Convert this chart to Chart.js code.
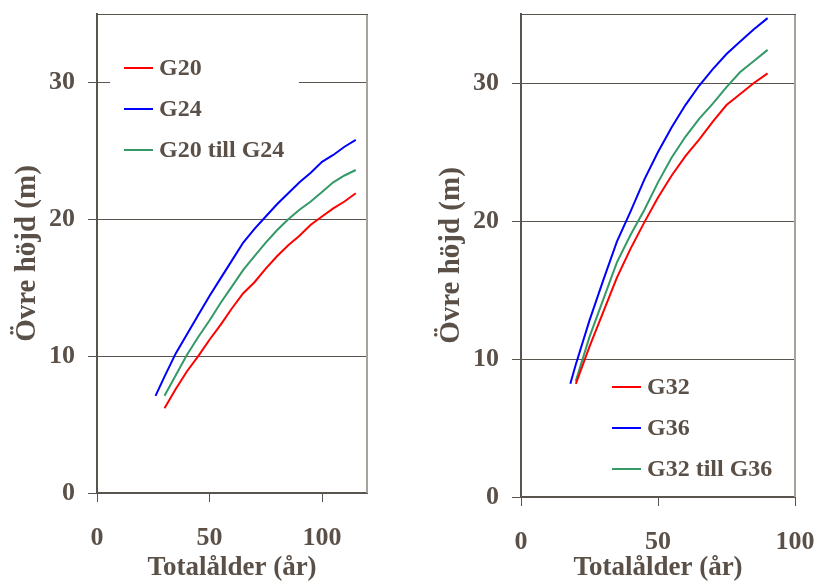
<!DOCTYPE html>
<html>
<head>
<meta charset="utf-8">
<script src="https://cdn.jsdelivr.net/npm/chart.js@4/dist/chart.umd.min.js"></script>
<style>
  html, body { margin: 0; padding: 0; background: #fff; }
  #wrap { display: flex; width: 816px; height: 581px; }
  .panel { width: 408px; height: 581px; position: relative; }
</style>
</head>
<body>
<div id="wrap">
  <div class="panel"><canvas id="left" width="408" height="581"></canvas></div>
  <div class="panel"><canvas id="right" width="408" height="581"></canvas></div>
</div>
<script>
// Övre höjd (m) mot totalålder (år), ståndortsindex G20–G24 och G32–G36

// G20 / G24 / G20 till G24
const ageG20 = [30, 35, 40, 45, 50, 55, 60, 65, 70, 75, 80, 85, 90, 95, 100, 105, 110, 115];
const hG20   = [6.2, 7.6, 8.9, 10.0, 11.2, 12.3, 13.5, 14.6, 15.4, 16.4, 17.3, 18.1, 18.8, 19.6, 20.2, 20.8, 21.3, 21.9];
const ageG24 = [26, 30, 35, 40, 45, 50, 55, 60, 65, 70, 75, 80, 85, 90, 95, 100, 105, 110, 115];
const hG24   = [7.1, 8.5, 10.2, 11.6, 13.0, 14.4, 15.7, 17.0, 18.3, 19.3, 20.2, 21.1, 21.9, 22.7, 23.4, 24.2, 24.7, 25.3, 25.8];
const ageG20G24 = [30, 35, 40, 45, 50, 55, 60, 65, 70, 75, 80, 85, 90, 95, 100, 105, 110, 115];
const hG20G24   = [7.1, 8.6, 10.1, 11.4, 12.6, 13.9, 15.1, 16.3, 17.3, 18.3, 19.2, 20.0, 20.7, 21.3, 22.0, 22.7, 23.2, 23.6];

// G32 / G36 / G32 till G36
const ageG32 = [20, 25, 30, 35, 40, 45, 50, 55, 60, 65, 70, 75, 80, 85, 90];
const hG32   = [8.2, 10.9, 13.4, 15.9, 18.0, 19.9, 21.7, 23.3, 24.7, 25.9, 27.2, 28.4, 29.2, 30.0, 30.7];
const ageG36 = [18, 20, 25, 30, 35, 40, 45, 50, 55, 60, 65, 70, 75, 80, 85, 90];
const hG36   = [8.2, 9.6, 12.8, 15.7, 18.5, 20.7, 23.0, 25.0, 26.8, 28.4, 29.8, 31.0, 32.1, 33.0, 33.9, 34.7];
const ageG32G36 = [20, 25, 30, 35, 40, 45, 50, 55, 60, 65, 70, 75, 80, 85, 90];
const hG32G36   = [8.4, 11.6, 14.3, 17.0, 19.0, 20.8, 22.8, 24.6, 26.1, 27.4, 28.5, 29.7, 30.8, 31.6, 32.4];

// Axis ticks
const yTicks = [0, 10, 20, 30];
const xTicksLeft = [0, 50, 100];
const xTicksRight = [0, 50, 100];

const TEXT = '#5a5048';
const GRID = '#5a544e';
const SERIF = "'Liberation Serif', 'Times New Roman', serif";

const pts = (xs, ys) => xs.map((x, i) => ({ x, y: ys[i] }));

function lineSet(label, xs, ys, color) {
  return {
    label, data: pts(xs, ys), borderColor: color, backgroundColor: color,
    borderWidth: 2, pointRadius: 0, tension: 0, fill: false
  };
}

// Legend drawn inside the plot area, on a white box
const insideLegend = {
  id: 'insideLegend',
  afterDatasetsDraw(chart, args, o) {
    const { ctx, chartArea } = chart;
    const x0 = chartArea.left + o.x;
    const y0 = chartArea.top + o.y;
    const n = chart.data.datasets.length;
    ctx.save();
    ctx.fillStyle = '#ffffff';
    ctx.fillRect(chartArea.left + o.boxLeft, y0 - o.boxPad, o.boxWidth, (n - 1) * o.spacing + 2 * o.boxPad);
    ctx.font = 'bold ' + o.fontSize + 'px ' + SERIF;
    ctx.textBaseline = 'middle';
    ctx.textAlign = 'left';
    chart.data.datasets.forEach((ds, i) => {
      const y = y0 + i * o.spacing;
      ctx.strokeStyle = ds.borderColor;
      ctx.lineWidth = 2;
      ctx.beginPath();
      ctx.moveTo(x0, y);
      ctx.lineTo(x0 + o.lineLen, y);
      ctx.stroke();
      ctx.fillStyle = TEXT;
      ctx.fillText(ds.label, x0 + o.lineLen + o.gap, y + o.textDy);
    });
    ctx.restore();
  }
};

// Top and right frame of the plot area
const frame = {
  id: 'frame',
  afterDraw(chart) {
    const { ctx, chartArea: a } = chart;
    ctx.save();
    ctx.strokeStyle = '#a8a29c';
    ctx.lineWidth = 2;
    ctx.beginPath();
    ctx.moveTo(a.right, a.top);
    ctx.lineTo(a.right, a.bottom);
    ctx.stroke();
    ctx.strokeStyle = GRID;
    ctx.lineWidth = 1;
    ctx.beginPath();
    ctx.moveTo(a.left, a.top + 0.5);
    ctx.lineTo(a.right + 1, a.top + 0.5);
    ctx.stroke();
    ctx.restore();
  }
};

function makeChart(id, datasets, xMax, xTicks, pad, legend) {
  return new Chart(document.getElementById(id), {
    type: 'line',
    data: { datasets },
    plugins: [insideLegend, frame],
    options: {
      responsive: false,
      animation: false,
      layout: { padding: pad },
      plugins: {
        legend: { display: false },
        tooltip: { enabled: false },
        insideLegend: legend
      },
      scales: {
        x: {
          type: 'linear', min: 0, max: xMax,
          afterBuildTicks: s => { s.ticks = xTicks.map(v => ({ value: v })); },
          afterFit: s => { s.height = pad.xHeight; s.paddingLeft = 0; s.paddingRight = 0; },
          grid: { drawOnChartArea: false, drawTicks: true, tickLength: 9, tickColor: GRID, lineWidth: 1 },
          border: { display: true, color: GRID, width: 2 },
          ticks: { color: TEXT, padding: 21, maxRotation: 0, font: { family: SERIF, size: 26, weight: 'bold' } },
          title: {
            display: true, text: 'Totalålder (år)', color: TEXT,
            padding: { top: 0, bottom: -3 },
            font: { family: SERIF, size: 27, weight: 'bold' }
          }
        },
        y: {
          type: 'linear', min: 0, max: 35,
          afterBuildTicks: s => { s.ticks = yTicks.map(v => ({ value: v })); },
          afterFit: s => { s.width = 97; s.paddingTop = 0; s.paddingBottom = 0; },
          grid: { drawOnChartArea: true, drawTicks: true, tickLength: 9, color: GRID, tickColor: GRID, lineWidth: 1 },
          border: { display: true, color: GRID, width: 2 },
          ticks: { color: TEXT, padding: 13, font: { family: SERIF, size: 26, weight: 'bold' } },
          title: {
            display: true, text: 'Övre höjd (m)', color: TEXT,
            padding: { top: 10, bottom: 0 },
            font: { family: SERIF, size: 29, weight: 'bold' }
          }
        }
      }
    }
  });
}

makeChart('left', [
  lineSet('G20', ageG20, hG20, '#ff0000'),
  lineSet('G24', ageG24, hG24, '#0000ff'),
  lineSet('G20 till G24', ageG20G24, hG20G24, '#339966')
], 120, xTicksLeft,
  { top: 14, right: 41, left: 0, bottom: 0, xHeight: 88 },
  { x: 27, y: 54, spacing: 41, lineLen: 29, gap: 6, fontSize: 24, textDy: 1,
    boxLeft: 13, boxWidth: 189, boxPad: 26 });

makeChart('right', [
  lineSet('G32', ageG32, hG32, '#ff0000'),
  lineSet('G36', ageG36, hG36, '#0000ff'),
  lineSet('G32 till G36', ageG32G36, hG32G36, '#339966')
], 100, xTicksRight,
  { top: 14, right: 21, left: 16, bottom: 0, xHeight: 84 },
  { x: 91, y: 373, spacing: 41, lineLen: 29, gap: 6, fontSize: 24, textDy: 1,
    boxLeft: 78, boxWidth: 190, boxPad: 0 });
</script>
</body>
</html>
